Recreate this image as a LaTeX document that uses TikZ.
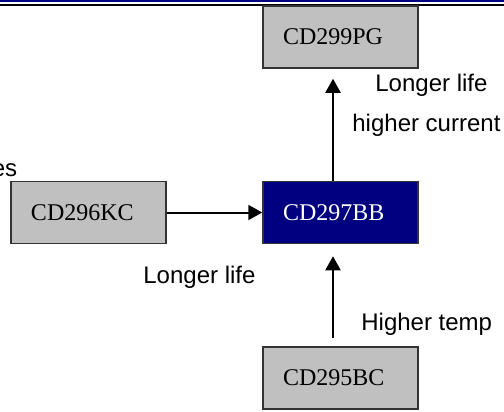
\documentclass[tikz,border=0pt]{standalone}
\usepackage{fontspec}
\setmainfont{Liberation Serif}
\newfontfamily\labelfont{Liberation Sans}
\usetikzlibrary{arrows.meta}
\definecolor{navy}{RGB}{0,0,128}
\definecolor{silver}{RGB}{192,192,192}
\begin{document}
\begin{tikzpicture}[
			x=0.5pt, y=-0.5pt,
			part/.style = {draw=black!80, line width=0.75pt, fill=silver,
				minimum width=77.5pt, minimum height=31pt,
				text width=57.5pt, inner xsep=10pt, align=left,
				font=\fontsize{12}{14}\selectfont},
			target/.style = {part, fill=navy, text=white},
			gain/.style = {anchor=base west, inner sep=0pt,
				font=\labelfont\fontsize{12}{14}\selectfont},
			arr/.style = {line width=1pt, -{Triangle[length=7pt,width=7.5pt]}},
			]
			\useasboundingbox (0,0) rectangle (504,412);
			% header rule
			\draw[navy, line width=1pt] (0,1) -- (504,1);
			\draw[black, line width=0.8pt] (0,4.8) -- (504,4.8);
			% parts
			\node[part] (pg) at (340.5,37) {CD299PG};
			\node[part] (kc) at (88.5,212.5) {CD296KC};
			\node[target] (bb) at (340.5,212.5) {CD297BB};
			\node[part] (bc) at (340.5,378) {CD295BC};
			% links
			\draw[arr] ([xshift=-3.75pt]bb.north) -- ([xshift=-3.75pt,yshift=-5pt]pg.south);
			\draw[arr] (kc.east) -- (bb.west);
			\draw[arr] ([xshift=-3.75pt,yshift=4pt]bc.north) -- ([xshift=-3.75pt,yshift=-6pt]bb.south);
			% gains
			\node[gain] (life1) at (375,91) {Longer life};
			\node[gain] (curr) at (352,131) {higher current};
			\node[gain] (life2) at (143,283) {Longer life};
			\node[gain] (temp) at (361,330) {Higher temp};
			\node[gain, anchor=base east] (cut) at (17.5,176) {es};
		\end{tikzpicture}
\end{document}
